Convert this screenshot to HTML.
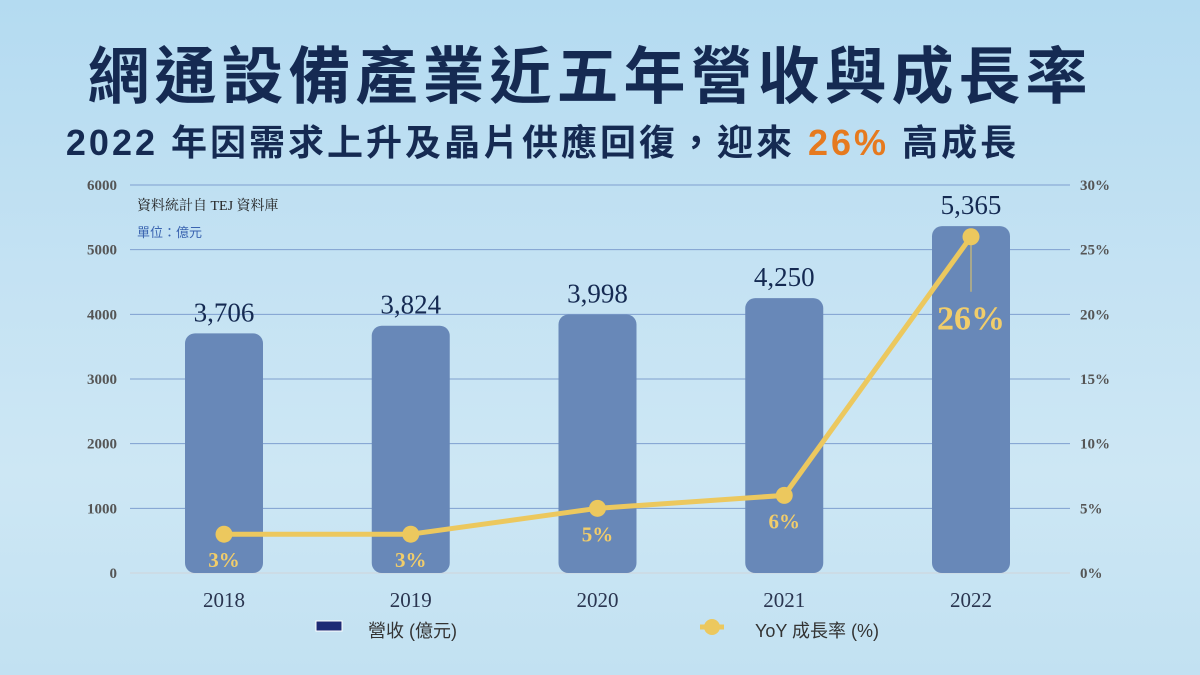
<!DOCTYPE html>
<html><head><meta charset="utf-8"><style>
html,body{margin:0;padding:0;}
body{width:1200px;height:675px;overflow:hidden;background:linear-gradient(180deg,#b4dbf1 0%,#c4e2f3 40%,#cde7f4 70%,#c2e1f2 100%);font-family:"Liberation Sans","Noto Sans CJK TC",sans-serif;position:relative;}
.t{position:absolute;left:0;width:1180px;text-align:center;color:#152a52;font-weight:bold;white-space:nowrap;}
</style></head><body>
<div class="t" style="top:26px;font-size:62px;letter-spacing:5px;">網通設備產業近五年營收與成長率</div>
<div class="t" style="top:114px;font-size:36px;letter-spacing:3px;width:1085px;">2022 年因需求上升及晶片供應回復，迎來 <span style="color:#e67a1f">26%</span> 高成長</div>
<svg id="c" width="1200" height="675" style="position:absolute;left:0;top:0"></svg>
<script>
const years=["2018","2019","2020","2021","2022"];
const revenue=[3706,3824,3998,4250,5365];
const revenueLabels=["3,706","3,824","3,998","4,250","5,365"];
const yoy=[3,3,5,6,26];
const leftTicks=[0,1000,2000,3000,4000,5000,6000];
const rightTicks=["0%","5%","10%","15%","20%","25%","30%"];
const NS="http://www.w3.org/2000/svg",svg=document.getElementById('c');
const x0=130,x1=1070,yb=573,yt=185;
const yL=v=>yb-(v/6000)*(yb-yt);
const yR=v=>yb-(v/30)*(yb-yt);
const xC=i=>224+i*186.75;
function el(t,a,txt){const e=document.createElementNS(NS,t);for(const k in a)e.setAttribute(k,a[k]);if(txt!==undefined)e.textContent=txt;svg.appendChild(e);return e;}
leftTicks.forEach((v,i)=>{
 const g=el('line',{x1:x0,x2:x1,y1:yL(v),y2:yL(v),stroke:v===0?'#d0d4d8':'#7f9fcf','stroke-width':1});
 
 const l=el('text',{x:117,y:yL(v)+5,'text-anchor':'end','font-family':'Liberation Serif,serif','font-weight':'bold','font-size':15,fill:'#555'},v);
 
 const r=el('text',{x:1080,y:yL(v)+5,'font-family':'Liberation Serif,serif','font-weight':'bold','font-size':15,fill:'#555'},rightTicks[i]);
 
});
let n=el('text',{x:137,y:210,'font-size':14,fill:'#222','font-family':'Liberation Serif,Noto Serif CJK SC,serif'},'資料統計自 TEJ 資料庫');

n=el('text',{x:137,y:237,'font-size':13,fill:'#3a64b0'},'單位：億元');

const bw=78,r=10;
years.forEach((y,i)=>{
 const cx=xC(i),top=yL(revenue[i]),h=yb-top;
 const b=el('rect',{x:cx-bw/2,y:top,width:bw,height:h,rx:r,fill:'#6888b8'});
 
 const t=el('text',{x:cx,y:top-12,'text-anchor':'middle','font-family':'Liberation Serif,serif','font-size':27,fill:'#152a52'},revenueLabels[i]);
 
 const xl=el('text',{x:cx,y:607,'text-anchor':'middle','font-family':'Liberation Serif,serif','font-size':21,fill:'#2a3550'},y);
 
});
const last=years.length-1;
const cl=el('line',{x1:xC(last),x2:xC(last),y1:yR(yoy[last]),y2:yR(yoy[last])+55,stroke:'#e8c860','stroke-width':1});

const line=el('polyline',{points:yoy.map((v,i)=>xC(i)+','+yR(v)).join(' '),fill:'none',stroke:'#ecc85e','stroke-width':5,'stroke-linejoin':'round'});

yoy.forEach((v,i)=>{
 const p=el('circle',{cx:xC(i),cy:yR(v),r:8.5,fill:'#ecc85e'});
 
 const big=i===last;
 const t=el('text',{x:xC(i),y:big?yR(v)+93:yR(v)+33,'text-anchor':'middle','font-family':'Liberation Serif,serif','font-weight':'bold','font-size':big?34:21,fill:'#f1cd6a'},v+'%');
 
});
let lg=el('rect',{x:316,y:621,width:26,height:10,fill:'#1d2a75',stroke:'#fff','stroke-width':1});

lg=el('text',{x:368,y:637,'font-size':18,fill:'#333'},'營收 (億元)');

lg=el('line',{x1:700,x2:724,y1:627,y2:627,stroke:'#ecc85e','stroke-width':5});

lg=el('circle',{cx:712,cy:627,r:8,fill:'#ecc85e'});

lg=el('text',{x:755,y:637,'font-size':18,fill:'#333'},'YoY 成長率 (%)');

</script>
</body></html>
